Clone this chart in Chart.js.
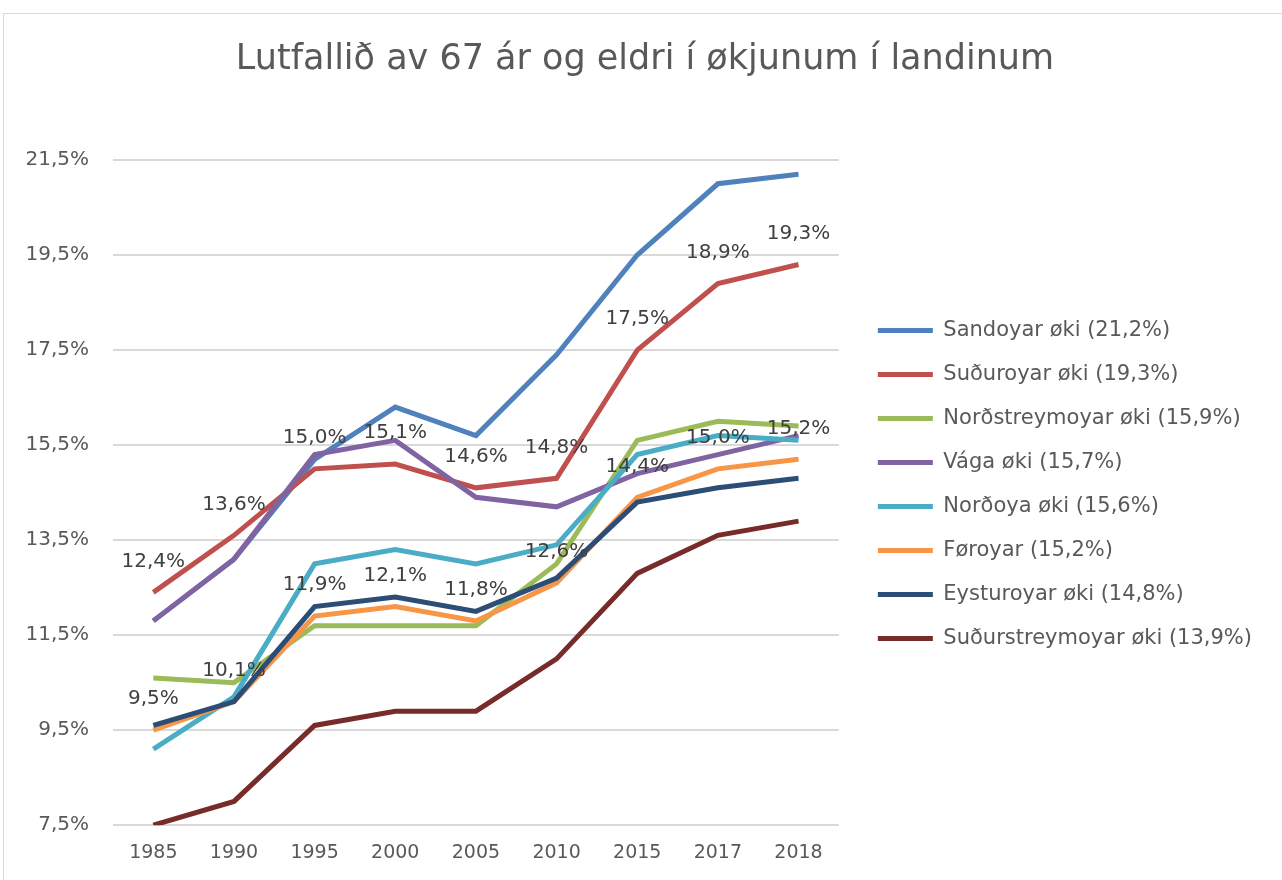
<!DOCTYPE html>
<html>
<head>
<meta charset="utf-8">
<script src="https://cdn.jsdelivr.net/npm/chart.js@4.4.1/dist/chart.umd.min.js"></script>
<style>
  html, body { margin: 0; padding: 0; background: #fff; }
  #wrap { position: relative; width: 1282px; height: 880px; overflow: hidden; }
  #frame { position: absolute; left: 3px; top: 13px; width: 1400px; height: 1000px; border: 1px solid #d9d9d9; }
  #chart { position: absolute; left: 0; top: 0; }
</style>
</head>
<body>
<div id="wrap">
  <div id="frame"></div>
  <canvas id="chart" width="1282" height="880"></canvas>
</div>
<script>
// Data
const years = ['1985', '1990', '1995', '2000', '2005', '2010', '2015', '2017', '2018'];

const sandoyar        = [11.8, 13.1, 15.2, 16.3, 15.7, 17.4, 19.5, 21.0, 21.2];
const suduroyar       = [12.4, 13.6, 15.0, 15.1, 14.6, 14.8, 17.5, 18.9, 19.3];
const nordstreymoyar  = [10.6, 10.5, 11.7, 11.7, 11.7, 13.0, 15.6, 16.0, 15.9];
const vaga            = [11.8, 13.1, 15.3, 15.6, 14.4, 14.2, 14.9, 15.3, 15.7];
const nordoya         = [9.1, 10.2, 13.0, 13.3, 13.0, 13.4, 15.3, 15.7, 15.6];
const foroyar         = [9.5, 10.1, 11.9, 12.1, 11.8, 12.6, 14.4, 15.0, 15.2];
const eysturoyar      = [9.6, 10.1, 12.1, 12.3, 12.0, 12.7, 14.3, 14.6, 14.8];
const sudurstreymoyar = [7.5, 8.0, 9.6, 9.9, 9.9, 11.0, 12.8, 13.6, 13.9];

const seriesNames = [
    'Sandoyar øki (21,2%)',
    'Suðuroyar øki (19,3%)',
    'Norðstreymoyar øki (15,9%)',
    'Vága øki (15,7%)',
    'Norðoya øki (15,6%)',
    'Føroyar (15,2%)',
    'Eysturoyar øki (14,8%)',
    'Suðurstreymoyar øki (13,9%)'
];
const seriesData = [sandoyar, suduroyar, nordstreymoyar, vaga, nordoya, foroyar, eysturoyar, sudurstreymoyar];
const seriesColors = ['#4f81bd', '#c0504d', '#9bbb59', '#8064a2', '#4bacc6', '#f79646', '#2c4d75', '#772c2a'];
// which series carry value labels
const labelled = [false, true, false, false, false, true, false, false];

const FONT = "'DejaVu Sans', sans-serif";
const TEXT = '#595959';

function pct(v) {
    return v.toFixed(1).replace('.', ',') + '%';
}

// simple value labels drawn above the points
const valueLabels = {
    id: 'valueLabels',
    afterDatasetsDraw(chart) {
        const ctx = chart.ctx;
        ctx.save();
        ctx.font = '20px ' + FONT;
        ctx.fillStyle = '#404040';
        ctx.textAlign = 'center';
        ctx.textBaseline = 'middle';
        chart.data.datasets.forEach((ds, i) => {
            if (!labelled[i]) return;
            chart.getDatasetMeta(i).data.forEach((pt, j) => {
                ctx.fillText(pct(ds.data[j]), pt.x, pt.y - 31);
            });
        });
        ctx.restore();
    }
};

// nudge legend and title a little, like the Excel original
const layoutNudge = {
    id: 'layoutNudge',
    afterLayout(chart) {
        const lg = chart.legend;
        lg.left += 16; lg.right += 16;
        lg.top -= 8; lg.bottom -= 8;
        const tb = chart.titleBlock;
        tb.left += 22; tb.right += 22;
    }
};

const datasets = seriesNames.map((name, i) => ({
    label: name,
    data: seriesData[i],
    borderColor: seriesColors[i],
    backgroundColor: seriesColors[i],
    borderWidth: 5,
    pointRadius: 0,
    tension: 0,
    order: seriesNames.length - i  // later series on top, like the original
}));

new Chart(document.getElementById('chart'), {
    type: 'line',
    data: { labels: years, datasets: datasets },
    plugins: [valueLabels, layoutNudge],
    options: {
        responsive: false,
        animation: false,
        layout: { padding: { left: 0, right: 36, top: 0, bottom: 0 } },
        plugins: {
            title: {
                display: true,
                text: 'Lutfallið av 67 ár og eldri í økjunum í landinum',
                color: TEXT,
                font: { family: FONT, size: 35, weight: 'normal' },
                padding: { top: 39, bottom: 79 }
            },
            legend: {
                position: 'right',
                fullSize: false,
                maxWidth: 600,
                labels: {
                    color: TEXT,
                    font: { family: FONT, size: 21 },
                    boxWidth: 55,
                    boxHeight: 5,
                    padding: 23,
                    generateLabels(chart) {
                        return chart.data.datasets.map((ds, i) => ({
                            text: ds.label,
                            fillStyle: ds.borderColor,
                            strokeStyle: ds.borderColor,
                            lineWidth: 0,
                            fontColor: TEXT,
                            datasetIndex: i
                        }));
                    }
                }
            },
            tooltip: { enabled: false }
        },
        scales: {
            x: {
                offset: true,
                grid: { display: false, drawTicks: false },
                border: { display: false },
                ticks: { color: TEXT, font: { family: FONT, size: 19 }, padding: 16 }
            },
            y: {
                min: 7.5,
                max: 21.5,
                grid: { color: '#d9d9d9', lineWidth: 2, drawTicks: false },
                border: { display: false },
                ticks: {
                    stepSize: 2,
                    color: TEXT,
                    font: { family: FONT, size: 20 },
                    padding: 24,
                    callback: v => pct(v)
                },
                afterFit(scale) { scale.width = 113; }
            }
        }
    }
});
</script>
</body>
</html>
